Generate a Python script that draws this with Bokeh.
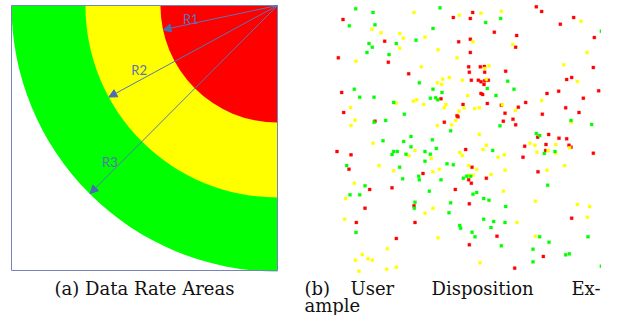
import math
from bokeh.plotting import figure
from bokeh.models import ColumnDataSource, Arrow, NormalHead, Label, Range1d
from bokeh.layouts import row
from bokeh.embed import file_html
from bokeh.resources import INLINE

# ---------------- (a) Data Rate Areas ----------------
zone_names = ["R3", "R2", "R1"]
zone_radius = [1.0, 0.722, 0.44]
zone_colors = ["#00ff00", "#ffff00", "#ff0000"]
arrow_angle_deg = [225.2, 208.6, 192.0]      # for R3, R2, R1
label_x = [0.370, 0.480, 0.674]
label_y = [0.409, 0.755, 0.950]
caption_a = "(a) Data Rate Areas"

# ---------------- (b) User Disposition Example ----------------
red_x = [652, 668, 461, 403, 454, 764, 72, 724, 526, 593, 826, 454, 197, 419, 590, 454, 58, 208, 449, 484,
         496, 823, 451, 497, 560, 269, 758, 743, 457, 478, 486, 497, 508, 495, 719, 839, 68, 486, 491, 684,
         366, 793, 620, 505, 432, 547, 598, 740, 74, 558, 670, 780, 414, 417, 582, 168, 376, 553, 590, 689,
         656, 720, 743, 617, 681, 750, 756, 440, 680, 54, 96, 612, 823, 459, 90, 657, 312, 449, 502, 457,
         152, 219, 409, 451, 285, 138, 758, 112, 288, 534, 232, 451, 673, 587]
red_y = [19, 33, 36, 51, 54, 51, 57, 71, 95, 105, 111, 116, 122, 124, 140, 156, 172, 185, 199, 199,
         198, 201, 215, 215, 212, 220, 231, 237, 239, 239, 244, 241, 239, 252, 272, 271, 276, 279, 282, 279,
         295, 293, 306, 309, 312, 314, 320, 322, 336, 338, 341, 336, 346, 349, 356, 362, 365, 362, 373, 402,
         410, 413, 415, 437, 432, 434, 440, 447, 450, 453, 463, 470, 458, 500, 506, 514, 519, 538, 533, 548,
         567, 562, 567, 610, 616, 623, 653, 666, 666, 707, 714, 733, 768, 803]
yellow_x = [285, 486, 547, 421, 786, 159, 186, 242, 318, 253, 462, 581, 242, 357, 804, 414, 111, 734, 307, 497,
            510, 391, 371, 430, 502, 775, 355, 368, 446, 293, 283, 232, 668, 314, 381, 550, 95, 376, 435, 467,
            481, 420, 589, 108, 410, 757, 96, 355, 398, 481, 162, 633, 648, 710, 752, 502, 492, 654, 687, 710,
            270, 288, 422, 430, 556, 337, 537, 449, 180, 737, 361, 473, 558, 684, 224, 342, 516, 449, 462, 106,
            553, 80, 649, 775, 342, 812, 318, 805, 77, 594, 649, 357, 205, 130, 147, 160, 109, 483, 232, 203, 120]
yellow_y = [36, 38, 32, 44, 62, 86, 97, 99, 110, 113, 124, 132, 143, 148, 156, 172, 182, 193, 199, 204,
            196, 231, 236, 239, 236, 243, 247, 252, 285, 298, 302, 308, 300, 312, 312, 313, 321, 322, 322, 324,
            322, 332, 330, 359, 360, 365, 375, 375, 373, 402, 428, 428, 434, 432, 442, 434, 447, 455, 450, 458,
            466, 450, 456, 465, 463, 474, 470, 495, 495, 495, 506, 506, 509, 509, 511, 514, 522, 524, 524, 548,
            572, 594, 602, 612, 623, 618, 638, 650, 656, 666, 707, 712, 745, 762, 775, 779, 779, 787, 800, 806, 812]
green_x = [110, 363, 162, 545, 500, 91, 168, 342, 847, 291, 150, 232, 160, 144, 210, 566, 301, 106, 342, 505,
           585, 369, 531, 122, 165, 334, 350, 356, 224, 256, 165, 200, 756, 543, 818, 395, 276, 652, 662, 192,
           254, 340, 276, 352, 521, 676, 708, 224, 235, 219, 261, 318, 334, 318, 384, 403, 242, 83, 299, 443,
           455, 251, 301, 366, 433, 686, 138, 331, 473, 462, 93, 122, 494, 510, 288, 395, 286, 560, 390, 494,
           524, 558, 422, 425, 516, 111, 459, 468, 662, 807, 690, 547, 642, 740, 751, 642, 847]
green_y = [25, 22, 36, 54, 66, 76, 73, 84, 92, 119, 129, 129, 140, 156, 162, 242, 247, 266, 266, 264,
           266, 276, 285, 290, 290, 293, 292, 298, 306, 341, 365, 360, 360, 376, 372, 391, 408, 399, 405, 421,
           423, 418, 439, 444, 450, 459, 453, 453, 453, 462, 461, 453, 461, 482, 490, 493, 500, 495, 527, 527,
           527, 535, 538, 538, 533, 554, 556, 572, 576, 581, 583, 583, 594, 599, 605, 607, 623, 618, 637, 656,
           663, 666, 675, 683, 681, 696, 695, 709, 709, 709, 725, 736, 746, 763, 760, 784, 797]
caption_b_words = ["(b)", "User", "Disposition", "Ex-"]
caption_b_line2 = "ample"

CAPTION_FONT = "DejaVu Serif"
CAPTION_SIZE = "18px"
BOTTOM1, BOTTOM2 = 298, 315     # bottoms of the caption lines, canvas pixels

# ================= panel (a) =================
SX, SY = 266.0, 265.0
WA, HA = 300, 315
x0 = -11.0 / SX
y1 = 1.0 + 5.0 / SY
pa = figure(width=WA, height=HA, x_range=Range1d(x0, x0 + WA / SX),
            y_range=Range1d(y1 - HA / SY, y1), output_backend="svg",
            toolbar_location=None, x_axis_type=None, y_axis_type=None, min_border=0)
pa.outline_line_color = None
pa.background_fill_color = "white"

zones = ColumnDataSource(dict(r=zone_radius, c=zone_colors, name=zone_names))
pa.wedge(x=1.0, y=1.0, radius="r", start_angle=math.pi, end_angle=1.5 * math.pi,
         fill_color="c", line_color=None, source=zones)
pa.quad(left=[0], right=[1], bottom=[0], top=[1], fill_color=None,
        line_color="#7484bb", line_width=1)

ex = [1.0 + r * math.cos(math.radians(a)) for r, a in zip(zone_radius, arrow_angle_deg)]
ey = [1.0 + r * math.sin(math.radians(a)) for r, a in zip(zone_radius, arrow_angle_deg)]
arrows = ColumnDataSource(dict(x_start=[1.0] * 3, y_start=[1.0] * 3, x_end=ex, y_end=ey))
pa.add_layout(Arrow(end=NormalHead(size=8, fill_color="#4a6cb0", line_color="#4a6cb0", line_width=1),
                    x_start="x_start", y_start="y_start", x_end="x_end", y_end="y_end",
                    line_color="#5577b8", line_width=1, source=arrows))
for name, lx, ly in zip(zone_names, label_x, label_y):
    pa.add_layout(Label(x=lx, y=ly, text=name, text_font="Lato", text_font_size="13px",
                        text_color="#5a73b0", text_align="center", text_baseline="middle"))


def ya(cy):
    return y1 - cy / SY


pa.add_layout(Label(x=0.5, y=ya(BOTTOM1), text=caption_a, text_font=CAPTION_FONT,
                    text_font_size=CAPTION_SIZE, text_color="#111111", text_align="center",
                    text_baseline="bottom"))

# ================= panel (b) =================
WB, HB = 301, 315
XOFF = 318.5                     # canvas x of b's data origin
xs0 = 3 * (WA - XOFF)
pb = figure(width=WB, height=HB, x_range=Range1d(xs0, xs0 + 3 * WB),
            y_range=Range1d(3 * HB, 0), output_backend="svg",
            toolbar_location=None, x_axis_type=None, y_axis_type=None, min_border=0)
pb.outline_line_color = None
pb.background_fill_color = "white"

for xs, ys, col in ((red_x, red_y, "#ff0000"), (yellow_x, yellow_y, "#ffff00"),
                    (green_x, green_y, "#00ff00")):
    pb.scatter(xs, ys, marker="square", size=3, fill_color=col, line_color=col,
               line_alpha=0.3, line_width=1)


def xb(cx):
    return 3 * (cx - XOFF)


word_cx = [304, 350, 431]
for w, cx in zip(caption_b_words[:3], word_cx):
    pb.add_layout(Label(x=xb(cx), y=3 * BOTTOM1, text=w, text_font=CAPTION_FONT,
                        text_font_size=CAPTION_SIZE, text_color="#111111", text_align="left",
                        text_baseline="bottom"))
pb.add_layout(Label(x=xb(600), y=3 * BOTTOM1, text=caption_b_words[3], text_font=CAPTION_FONT,
                    text_font_size=CAPTION_SIZE, text_color="#111111", text_align="right",
                    text_baseline="bottom"))
pb.add_layout(Label(x=xb(304), y=3 * BOTTOM2, text=caption_b_line2, text_font=CAPTION_FONT,
                    text_font_size=CAPTION_SIZE, text_color="#111111", text_align="left",
                    text_baseline="bottom"))

layout = row(pa, pb)

open("out.html", "w").write(file_html(layout, INLINE))
